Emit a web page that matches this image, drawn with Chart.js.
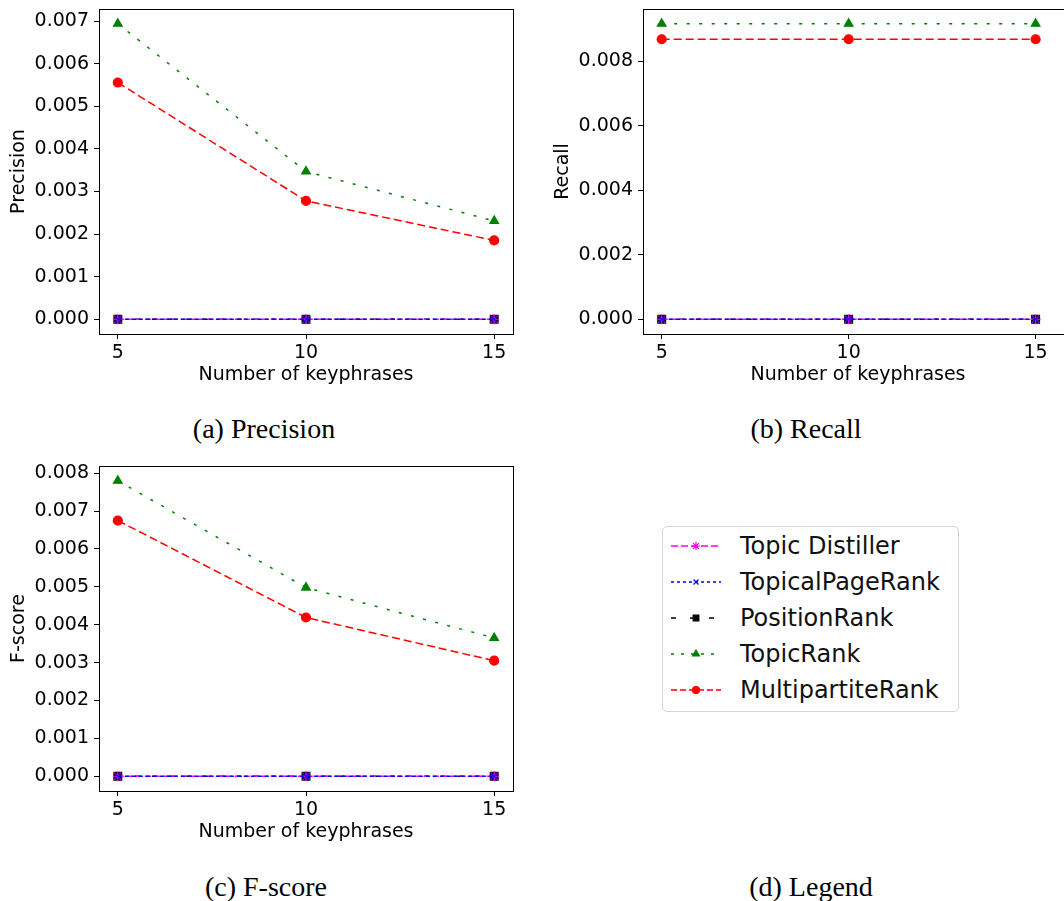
<!DOCTYPE html>
<html><head><meta charset="utf-8">
<script src="https://cdn.jsdelivr.net/npm/chart.js@4.4.1/dist/chart.umd.min.js"></script>
<style>
html,body{margin:0;padding:0;background:#fff;width:1064px;height:901px;overflow:hidden;position:relative}
canvas.c{position:absolute}
.cap{position:absolute;font-family:'Liberation Serif','Times New Roman',serif;font-size:28px;color:#000;transform:translate(-50%,-50%);white-space:nowrap;line-height:1}
#legend{position:absolute;left:662px;top:526px;width:297px;height:186px;border:1px solid #d6d6d6;border-radius:5px;box-sizing:border-box;background:#fff}
.lrow{position:absolute;left:0;width:297px;height:36px}
.lrow canvas{position:absolute;left:4px;top:8px}
.lrow span{position:absolute;left:77px;top:0;line-height:36px;font-family:'DejaVu Sans',sans-serif;font-size:24px;color:#111;white-space:nowrap}
</style>
</head><body>
<canvas id="cP" class="c" style="left:0px;top:0px" width="530" height="400"></canvas>
<canvas id="cR" class="c" style="left:544px;top:0px" width="546" height="400"></canvas>
<canvas id="cF" class="c" style="left:0px;top:457px" width="530" height="400"></canvas>
<div class="cap" style="left:264px;top:429px">(a) Precision</div>
<div class="cap" style="left:806px;top:429px">(b) Recall</div>
<div class="cap" style="left:266px;top:887px">(c) F-score</div>
<div class="cap" style="left:811px;top:887px">(d) Legend</div>
<div id="legend"></div>
<script>
// ---- data ----
const xValues = [5, 10, 15];
const xTicks = [5, 10, 15];
const seriesNames = ['Topic Distiller', 'TopicalPageRank', 'PositionRank', 'TopicRank', 'MultipartiteRank'];

const precisionTopicDistiller = [0, 0, 0];
const precisionTopicalPageRank = [0, 0, 0];
const precisionPositionRank = [0, 0, 0];
const precisionTopicRank = [0.00694, 0.00347, 0.00231];
const precisionMultipartiteRank = [0.00556, 0.00278, 0.00185];

const recallTopicDistiller = [0, 0, 0];
const recallTopicalPageRank = [0, 0, 0];
const recallPositionRank = [0, 0, 0];
const recallTopicRank = [0.00916, 0.00916, 0.00916];
const recallMultipartiteRank = [0.00868, 0.00868, 0.00868];

const fscoreTopicDistiller = [0, 0, 0];
const fscoreTopicalPageRank = [0, 0, 0];
const fscorePositionRank = [0, 0, 0];
const fscoreTopicRank = [0.0078, 0.00498, 0.00365];
const fscoreMultipartiteRank = [0.00675, 0.00419, 0.00305];

const precisionTicks = [0, 0.001, 0.002, 0.003, 0.004, 0.005, 0.006, 0.007];
const recallTicks = [0, 0.002, 0.004, 0.006, 0.008];
const fscoreTicks = [0, 0.001, 0.002, 0.003, 0.004, 0.005, 0.006, 0.007, 0.008];

// ---- styles ----
const styles = [
  {color:'#ff00ff', dash:[6,3], legendDash:[7,3], point:'star', radius:5, lRadius:4, order:3},
  {color:'#0000ff', dash:[4,3], legendDash:[3,3], point:'crossRot', radius:4, lRadius:3.5, order:2},
  {color:'#000000', dash:[5,12], legendDash:[5,14], point:'rect', radius:5.5, lRadius:4, order:4},
  {color:'#008000', dash:[3,9.5], legendDash:[3,7], point:'triangle', radius:5, lRadius:4, order:1},
  {color:'#ff0000', dash:[8,4], legendDash:[6,3], point:'circle', radius:4.5, lRadius:3.5, order:0}
];

const FONT = "'DejaVu Sans', sans-serif";
Chart.defaults.font.family = FONT;
Chart.defaults.color = '#000';

const frame = {
  id: 'frame',
  afterDatasetsDraw(chart) {
    const {ctx, chartArea: a} = chart;
    ctx.save();
    ctx.strokeStyle = '#000';
    ctx.lineWidth = 1;
    ctx.setLineDash([]);
    ctx.strokeRect(Math.round(a.left) + 0.5, Math.round(a.top) + 0.5,
                   Math.round(a.right - a.left), Math.round(a.bottom - a.top));
    ctx.restore();
  }
};

function makeChart(id, series, yTicks, yTitle, xMax, rightPad) {
  const maxVal = Math.max(...series.flat());
  const datasets = series.map((vals, i) => {
    const s = styles[i];
    return {
      label: seriesNames[i],
      data: xValues.map((x, j) => ({x: x, y: vals[j]})),
      borderColor: s.color,
      backgroundColor: s.color,
      borderDash: s.dash,
      borderWidth: 1.5,
      pointStyle: s.point,
      pointRadius: s.radius,
      pointBorderColor: s.color,
      pointBackgroundColor: s.color,
      pointBorderWidth: 1.2,
      order: s.order,
      tension: 0,
      clip: false
    };
  });
  return new Chart(document.getElementById(id), {
    type: 'line',
    data: {datasets},
    plugins: [frame],
    options: {
      responsive: false,
      animation: false,
      devicePixelRatio: 1,
      layout: {padding: {left: 0, top: 9, right: rightPad, bottom: 0}},
      plugins: {legend: {display: false}, tooltip: {enabled: false}},
      scales: {
        x: {
          type: 'linear', min: 4.5, max: xMax,
          afterBuildTicks: s => { s.ticks = xTicks.map(v => ({value: v})); },
          afterFit: s => { s.height = 66; s.paddingLeft = 0; s.paddingRight = 0; },
          ticks: {font: {size: 19, family: FONT}, color: '#000', padding: 3, maxRotation: 0,
                  callback: v => String(v)},
          grid: {drawOnChartArea: false, drawTicks: true, tickLength: 5, color: '#000', lineWidth: 1},
          border: {display: false},
          title: {display: true, text: 'Number of keyphrases', font: {size: 19, family: FONT},
                  color: '#000', padding: {top: 0, bottom: 14}}
        },
        y: {
          type: 'linear', min: -0.05 * maxVal, max: 1.05 * maxVal,
          afterBuildTicks: s => { s.ticks = yTicks.map(v => ({value: v})); },
          afterFit: s => { s.width = 99; s.paddingTop = 0; s.paddingBottom = 0; },
          ticks: {font: {size: 19, family: FONT}, color: '#000', padding: 5,
                  callback: v => Number(v).toFixed(3)},
          grid: {drawOnChartArea: false, drawTicks: true, tickLength: 5, color: '#000', lineWidth: 1},
          border: {display: false},
          title: {display: true, text: yTitle, font: {size: 19, family: FONT},
                  color: '#000', padding: {top: 8, bottom: 0}}
        }
      }
    }
  });
}

makeChart('cP', [precisionTopicDistiller, precisionTopicalPageRank, precisionPositionRank, precisionTopicRank, precisionMultipartiteRank],
          precisionTicks, 'Precision', 15.5, 17);
makeChart('cR', [recallTopicDistiller, recallTopicalPageRank, recallPositionRank, recallTopicRank, recallMultipartiteRank],
          recallTicks, 'Recall', 16, 17);
makeChart('cF', [fscoreTopicDistiller, fscoreTopicalPageRank, fscorePositionRank, fscoreTopicRank, fscoreMultipartiteRank],
          fscoreTicks, 'F-score', 15.5, 17);

// ---- legend ----
const legend = document.getElementById('legend');
seriesNames.forEach((name, i) => {
  const s = styles[i];
  const row = document.createElement('div');
  row.className = 'lrow';
  row.style.top = (1 + 36 * i) + 'px';
  const cv = document.createElement('canvas');
  cv.width = 56; cv.height = 20;
  const sp = document.createElement('span');
  sp.textContent = name;
  row.appendChild(cv); row.appendChild(sp);
  legend.appendChild(row);
  const ctx = cv.getContext('2d');
  ctx.strokeStyle = s.color;
  ctx.lineWidth = 1.5;
  ctx.setLineDash(s.legendDash);
  ctx.beginPath(); ctx.moveTo(4, 10); ctx.lineTo(54, 10); ctx.stroke();
  ctx.setLineDash([]);
  ctx.fillStyle = s.color;
  ctx.lineWidth = 1.2;
  if (Chart.helpers && Chart.helpers.drawPoint) {
    Chart.helpers.drawPoint(ctx, {pointStyle: s.point, radius: s.lRadius, borderWidth: 1.2, rotation: 0}, 29, 10);
  } else {
    ctx.beginPath(); ctx.arc(29, 10, s.lRadius, 0, Math.PI * 2); ctx.fill();
  }
});
</script>
</body></html>
